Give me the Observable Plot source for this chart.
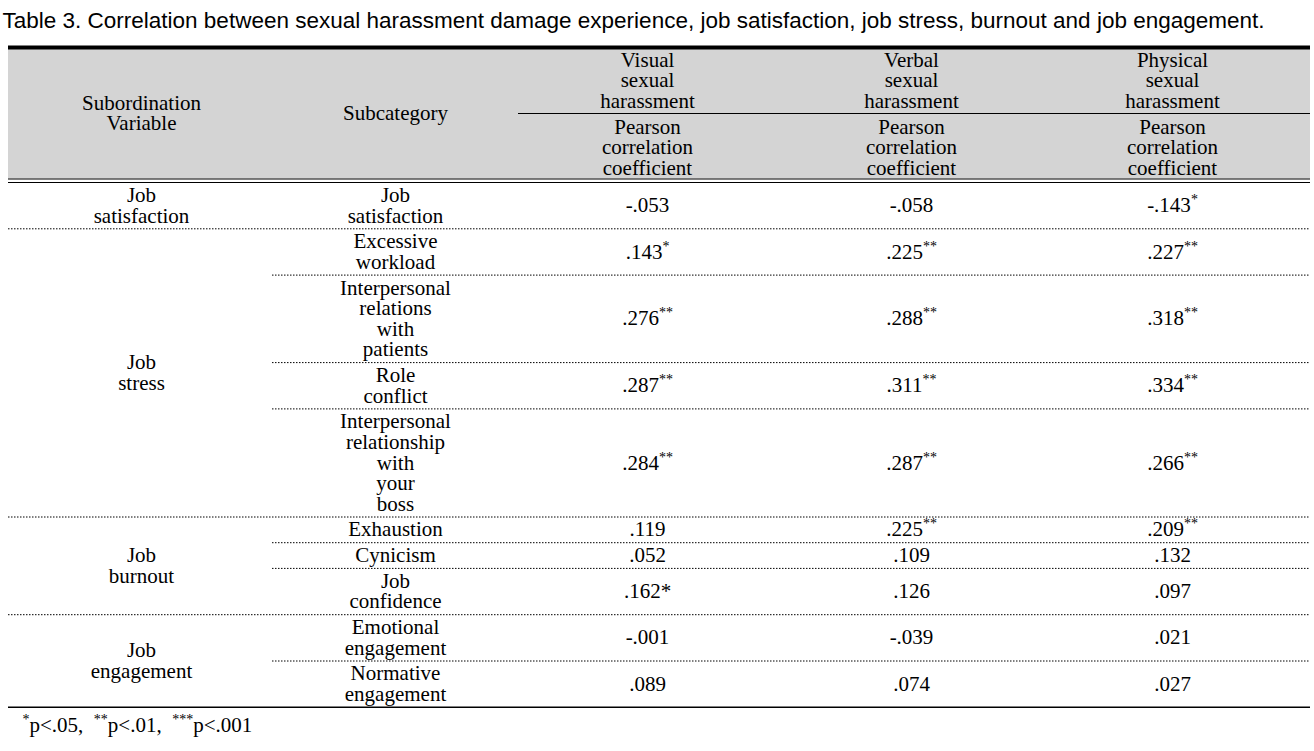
<!DOCTYPE html>
<html><head><meta charset="utf-8">
<script src="https://cdn.jsdelivr.net/npm/d3@7"></script>
<script src="https://cdn.jsdelivr.net/npm/@observablehq/plot@0.6"></script>
<style>html,body{margin:0;padding:0;background:#fff}</style>
</head><body><div id="chart"></div>
<script>
// ---------- DATA ----------
const title = "Table 3. Correlation between sexual harassment damage experience, job satisfaction, job stress, burnout and job engagement.";
const headerGroup = "Subordination\nVariable";
const headerSub = "Subcategory";
const harassmentTypes = ["Visual\nsexual\nharassment", "Verbal\nsexual\nharassment", "Physical\nsexual\nharassment"];
const statLabel = "Pearson\ncorrelation\ncoefficient";
const groups = ["Job\nsatisfaction", "Job\nstress", "Job\nburnout", "Job\nengagement"];
const subcategories = [
  "Job\nsatisfaction",
  "Excessive\nworkload",
  "Interpersonal\nrelations\nwith\npatients",
  "Role\nconflict",
  "Interpersonal\nrelationship\nwith\nyour\nboss",
  "Exhaustion",
  "Cynicism",
  "Job\nconfidence",
  "Emotional\nengagement",
  "Normative\nengagement"
];
const subGroup = [0, 1, 1, 1, 1, 2, 2, 2, 3, 3];
const visual   = [-0.053, 0.143, 0.276, 0.287, 0.284, 0.119, 0.052, 0.162, -0.001, 0.089];
const verbal   = [-0.058, 0.225, 0.288, 0.311, 0.287, 0.225, 0.109, 0.126, -0.039, 0.074];
const physical = [-0.143, 0.227, 0.318, 0.334, 0.266, 0.209, 0.132, 0.097, 0.021, 0.027];
// "^" = superscript marker, plain "*" = inline marker
const visualSig   = ["", "^*", "^**", "^**", "^**", "", "", "*", "", ""];
const verbalSig   = ["", "^**", "^**", "^**", "^**", "^**", "", "", "", ""];
const physicalSig = ["^*", "^**", "^**", "^**", "^**", "^**", "", "", "", ""];
const footnote = "{*}p<.05,\u00a0\u00a0{**}p<.01,\u00a0\u00a0{***}p<.001";

// ---------- LAYOUT ----------
const W = 1314, H = 751;
const L = {
  left: 8, right: 1310, subLeft: 272, headRuleLeft: 518,
  colX: [141, 395, 647, 911, 1172],
  topRuleY: 47, headTop: 49, headBottom: 178.5, dbl: 3.5,
  headSubRule: 113, headRow1Y: 80, headRow2Y: 147, headMidY: 113,
  lineH: 20.6, pad: 5.1, titleX: 2, titleY: 20, titleLen: 1289, footX: 22, footY: 725,
  serif: "'Liberation Serif', 'Times New Roman', serif", sans: "'Liberation Sans', Arial, sans-serif",
  fs: 21, supFs: 14, supDy: 8
};

const fmt = v => (v < 0 ? "-" : "") + Math.abs(v).toFixed(3).replace(/^0/, "");
const sigText = s => s.startsWith("^") ? "{" + s.slice(1) + "}" : s;

const bodyTop = L.headBottom + L.dbl;
let yCur = bodyTop;
const rows = subcategories.map((s, i) => {
  const n = s.split("\n").length;
  const h = n * L.lineH + L.pad;
  const r = {i, label: s, top: yCur, bottom: yCur + h, mid: yCur + h / 2, group: subGroup[i]};
  yCur += h;
  return r;
});
const groupCells = groups.map((g, gi) => {
  const rs = rows.filter(r => r.group === gi);
  return {label: g, mid: (rs[0].top + rs[rs.length - 1].bottom) / 2};
});
const series = [[visual, visualSig], [verbal, verbalSig], [physical, physicalSig]];
const valueCells = [];
rows.forEach(r => series.forEach(([vals, sigs], j) => {
  valueCells.push({x: L.colX[2 + j], y: r.mid, label: fmt(vals[r.i]) + sigText(sigs[r.i])});
}));
const dotted = [], solid = [];
rows.forEach((r, i) => {
  if (i < rows.length - 1) {
    dotted.push({y: r.bottom, x1: subGroup[i] !== subGroup[i + 1] ? L.left : L.subLeft, x2: L.right});
  } else {
    solid.push({y: r.bottom, x1: L.left, x2: L.right});
  }
});
const thinRules = [
  {y: L.headBottom, x1: L.left, x2: L.right},
  {y: L.headBottom + L.dbl, x1: L.left, x2: L.right},
  {y: L.headSubRule, x1: L.headRuleLeft, x2: L.right}
];
const headerTexts = [
  {x: L.colX[0], y: L.headMidY, label: headerGroup},
  {x: L.colX[1], y: L.headMidY, label: headerSub},
  ...harassmentTypes.map((t, j) => ({x: L.colX[2 + j], y: L.headRow1Y, label: t})),
  ...harassmentTypes.map((t, j) => ({x: L.colX[2 + j], y: L.headRow2Y, label: statLabel}))
];

const txt = (data, opts) => Plot.text(data, {x: "x", y: "y", text: "label", fontFamily: L.serif, fontSize: L.fs,
  lineHeight: L.lineH / L.fs, fill: "#000", ...opts});

const plot = Plot.plot({
  width: W, height: H, margin: 0,
  x: {domain: [0, W], range: [0, W], axis: null},
  y: {domain: [0, H], range: [0, H], axis: null},
  style: {background: "#fff", color: "#000", fontFamily: L.serif},
  marks: [
    Plot.rect([{x1: L.left, x2: L.right, y1: L.headTop, y2: L.headBottom}], {x1: "x1", x2: "x2", y1: "y1", y2: "y2", fill: "#d4d4d4"}),
    Plot.ruleY([{y: L.topRuleY, x1: L.left, x2: L.right}], {y: "y", x1: "x1", x2: "x2", stroke: "#000", strokeWidth: 4}),
    Plot.ruleY(thinRules, {y: "y", x1: "x1", x2: "x2", stroke: "#000", strokeWidth: 1.2}),
    Plot.ruleY(dotted, {y: "y", x1: "x1", x2: "x2", stroke: "#000", strokeWidth: 1, strokeDasharray: "1.5,1.5"}),
    Plot.ruleY(solid, {y: "y", x1: "x1", x2: "x2", stroke: "#000", strokeWidth: 1.6}),
    txt(headerTexts, {}),
    txt(groupCells.map(g => ({x: L.colX[0], y: g.mid, label: g.label})), {}),
    txt(rows.map(r => ({x: L.colX[1], y: r.mid, label: r.label})), {}),
    txt(valueCells, {}),
    Plot.text([{x: L.titleX, y: L.titleY, label: title}], {x: "x", y: "y", text: "label", textAnchor: "start",
      fontFamily: L.sans, fontSize: 22.5, fill: "#000", ariaLabel: "title"}),
    txt([{x: L.footX, y: L.footY, label: footnote}], {textAnchor: "start"})
  ]
});

// superscripts
plot.querySelectorAll("text").forEach(t => {
  const s = t.textContent;
  if (!s.includes("{")) return;
  t.textContent = "";
  let shifted = false;
  s.split(/(\{[^}]*\})/).filter(p => p !== "").forEach(p => {
    const ts = document.createElementNS("http://www.w3.org/2000/svg", "tspan");
    if (p.startsWith("{")) {
      ts.textContent = p.slice(1, -1);
      ts.setAttribute("font-size", L.supFs);
      ts.setAttribute("dy", -L.supDy);
      shifted = true;
    } else {
      ts.textContent = p;
      if (shifted) { ts.setAttribute("dy", L.supDy); shifted = false; }
    }
    t.appendChild(ts);
  });
});
const tt = plot.querySelector('g[aria-label="title"] text');
if (tt) { tt.setAttribute("textLength", L.titleLen); tt.setAttribute("lengthAdjust", "spacingAndGlyphs"); }

document.getElementById("chart").appendChild(plot);
</script>
</body></html>
